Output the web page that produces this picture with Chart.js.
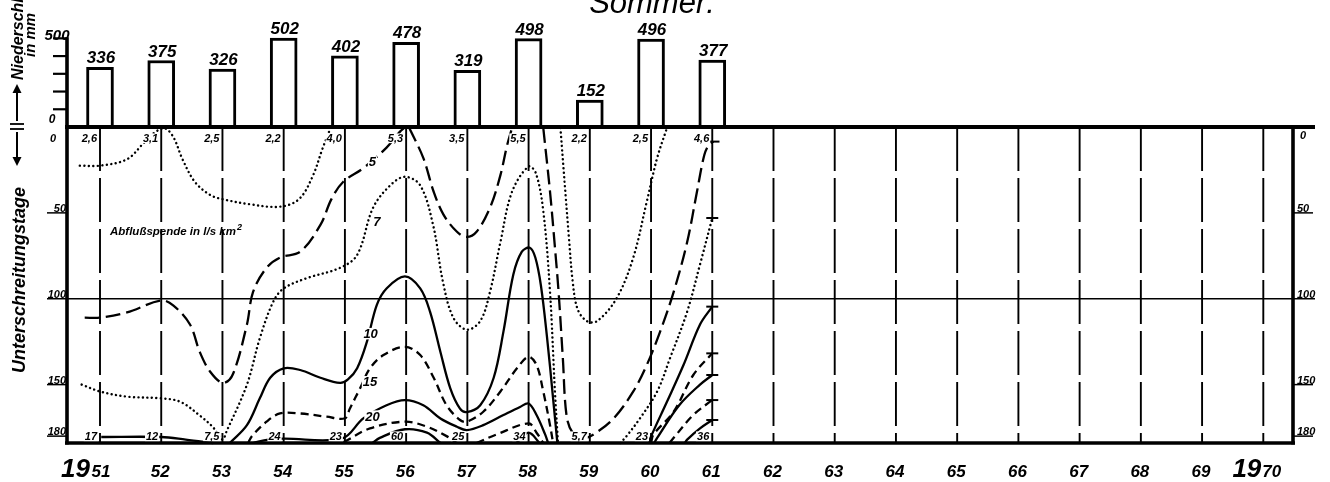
<!DOCTYPE html>
<html><head><meta charset="utf-8">
<script src="https://cdn.jsdelivr.net/npm/chart.js@4.4.1/dist/chart.umd.min.js"></script>
<style>html,body{margin:0;padding:0;background:#fff}canvas{display:block}</style>
</head><body>
<canvas id="c" width="1330" height="482"></canvas>
<script>
// ---------- data ----------
const years = [1951,1952,1953,1954,1955,1956,1957,1958,1959,1960,1961];
const precipitation = [336,375,326,502,402,478,319,498,152,496,377];
const minDischargeLabels = ['2,6','3,1','2,5','2,2','4,0','5,3','3,5','5,5','2,2','2,5','4,6'];
const maxDischargeLabels = ['17','12','7,5','24','23','60','25','34','5,7','23','36'];
const yearTicks = [1951,1952,1953,1954,1955,1956,1957,1958,1959,1960,1961,1962,1963,1964,1965,1966,1967,1968,1969,1970];
const yearTickLabels = ['51','52','53','54','55','56','57','58','59','60','61','62','63','64','65','66','67','68','69','70'];
const dayTicks = [0,50,100,150,180];
const dayTickLabels = ['0','50','100','150','180'];
const precipTicks = [100,200,300,400,500];

// isolines of discharge (l/s km2): [year, days]
const contour3a = [[1950.67,22.5],[1951,22.5],[1951.44,18.8],[1951.71,9.5],[1951.9,3],[1952.06,0.8],[1952.2,6],[1952.35,19],[1952.55,32],[1952.8,39.6],[1953,42],[1953.45,45],[1953.94,46.4],[1954.25,42],[1954.47,29],[1954.63,13],[1954.76,1]];
const contour3b = [[1958.52,0.5],[1958.6,37.7],[1958.66,65],[1958.72,90],[1958.8,106],[1958.95,113],[1959.12,113],[1959.44,99.6],[1959.71,76],[1959.93,43.5],[1960.1,18],[1960.26,0.5]];
const contour5a = [[1950.75,111],[1951,111],[1951.44,108],[1952,101],[1952.2,104],[1952.47,115],[1952.63,131],[1952.8,142.5],[1953.01,149],[1953.17,144],[1953.4,115],[1953.5,96],[1953.72,82],[1953.94,76],[1954.27,72.6],[1954.6,57],[1954.78,42],[1954.97,32],[1955.3,24],[1955.68,12],[1955.9,2.7],[1955.97,0.5]];
const contour5b = [[1956.05,0.5],[1956.28,18],[1956.45,37.7],[1956.61,51],[1956.83,61],[1956.99,64],[1957.15,61],[1957.37,47],[1957.54,28],[1957.65,10.5],[1957.73,0.5]];
const contour5c = [[1958.24,0.5],[1958.35,37.7],[1958.43,70],[1958.49,96],[1958.56,135],[1958.62,168],[1958.72,178],[1958.9,181],[1959.06,179],[1959.39,169.6],[1959.71,154],[1959.93,138.6],[1960.15,119],[1960.37,96],[1960.59,67],[1960.75,37.7],[1960.87,16.3],[1960.95,10],[1961.02,8.5]];
const contour7a = [[1950.7,150],[1951,154],[1951.44,157],[1952,158],[1952.31,160],[1952.63,168],[1952.85,175],[1953.0,182],[1953.07,177],[1953.4,150],[1953.61,123],[1953.83,101.7],[1954,94],[1954.38,88],[1954.92,82],[1955.2,74.5],[1955.46,47],[1955.74,34],[1955.98,29],[1956.23,34],[1956.44,57],[1956.6,90],[1956.77,111],[1956.99,118],[1957.21,113],[1957.37,96],[1957.54,67],[1957.73,37.7],[1958,23],[1958.12,27],[1958.24,49],[1958.35,96],[1958.43,154],[1958.48,184]];
const contour7b = [[1959.5,184],[1959.6,180],[1959.82,169.6],[1960.1,154],[1960.31,134.6],[1960.59,107.5],[1960.8,80],[1961.0,53]];
const contour10a = [[1951.02,180.5],[1952,180.5],[1952.4,182],[1952.85,184]];
const contour10b = [[1953.12,184],[1953.4,173.6],[1953.61,158],[1953.78,146],[1954,140.5],[1954.27,141.5],[1954.6,146],[1954.92,149],[1955.05,147],[1955.2,140.5],[1955.36,125],[1955.52,103.7],[1955.68,94],[1955.98,87],[1956.23,94],[1956.39,107.5],[1956.56,131],[1956.72,152],[1956.88,164],[1956.99,166],[1957.21,162],[1957.43,146],[1957.59,119],[1957.75,86],[1957.89,72.6],[1958.02,70.3],[1958.11,76],[1958.2,92],[1958.3,122],[1958.4,158],[1958.47,184]];
const contour10c = [[1959.97,184],[1959.99,181],[1960.26,160],[1960.53,138.6],[1960.8,115],[1961.0,104.6]];
const contour15a = [[1953.42,184],[1953.48,180],[1953.72,171.6],[1953.94,166.8],[1954.27,166.8],[1954.7,168.7],[1955.0,169.6],[1955.08,164],[1955.25,152],[1955.41,140.5],[1955.63,132.8],[1955.98,128],[1956.23,132.8],[1956.45,146],[1956.66,162],[1956.88,170.6],[1956.99,171.6],[1957.26,165.8],[1957.54,154],[1957.81,140.5],[1958,133.8],[1958.13,138.6],[1958.24,154],[1958.35,173.6],[1958.4,184]];
const contour15b = [[1960.0,184],[1960.04,179],[1960.37,165.8],[1960.69,144.4],[1961.0,131.8]];
const contour20a = [[1953.5,184],[1953.75,182],[1954,181.5],[1954.95,181.5],[1955.3,169.7],[1955.68,162],[1955.98,159],[1956.28,162],[1956.56,169.7],[1956.83,174.5],[1956.99,176.5],[1957.26,173.6],[1957.59,167.7],[1957.86,163],[1958,161],[1958.13,167.7],[1958.27,179],[1958.32,184]];
const contour20b = [[1960.05,184],[1960.1,181],[1960.46,162],[1960.8,150],[1961.0,144.4]];
const contour25a = [[1954.98,183.5],[1955.41,175.5],[1955.98,171.6],[1956.34,174.5],[1956.66,180],[1956.83,184]];
const contour25b = [[1957.15,184],[1957.48,179],[1958,172.6],[1958.13,178],[1958.24,184]];
const contour25c = [[1960.3,184],[1960.37,181],[1960.69,167.7],[1961.0,159]];
const contour30a = [[1955.45,184],[1955.57,181],[1955.98,176],[1956.34,178],[1956.56,184]];
const contour30b = [[1957.8,184],[1958,178],[1958.18,184]];
const contour30c = [[1960.55,184],[1960.59,182],[1960.8,175.5],[1961.0,170.6]];
const contourLabels = ['5','7','10','15','20'];
const contourLabelYears = [1955.45,1955.52,1955.42,1955.41,1955.45];
const contourLabelDays = [20,55,120,148,168];

// ---------- styling helpers ----------
const F = '"Liberation Sans","DejaVu Sans",sans-serif';
const DASH = {dotted:[0.1,4.4], long:[15,6], short:[8,5], solid:[]};
function contour(points, style, endTick){
  const n = points.length;
  return {
    type:'line', xAxisID:'x', yAxisID:'yDays',
    data: points.map(p=>({x:p[0], y:p[1]})),
    borderColor:'#000', borderWidth: style==='dotted'?2.4:2.3,
    borderDash: DASH[style], borderCapStyle: style==='dotted'?'round':'butt',
    tension:0.35, fill:false, clip:false,
    pointStyle:'line', pointBorderColor:'#000', pointBorderWidth:2,
    pointRadius: ctx => (endTick && ctx.dataIndex===n-1) ? 6 : 0,
    pointHoverRadius:0
  };
}

const XMIN = 1950.461, XMAX = 1970.485;
const TOP = 10, ZERO = 127, BOT = 443;
const DAYPX = (BOT-ZERO)/184, MMPX = 0.1773;

function txt(ctx, s, x, y, font, align, bg){
  ctx.font = font; ctx.textAlign = align || 'left'; ctx.textBaseline='alphabetic';
  if(bg){
    const w = ctx.measureText(s).width, h = parseFloat(font.match(/(\d+(\.\d+)?)px/)[1]);
    let lx = align==='right'? x-w : align==='center'? x-w/2 : x;
    ctx.fillStyle='#fff'; ctx.fillRect(lx-1, y-h*0.78, w+2, h*0.88);
  }
  ctx.fillStyle='#000'; ctx.fillText(s, x, y);
}
function line(ctx, x1,y1,x2,y2, w){ctx.lineWidth=w; ctx.beginPath(); ctx.moveTo(x1,y1); ctx.lineTo(x2,y2); ctx.stroke();}

const decor = {
  id:'decor',
  beforeDatasetsDraw(chart){
    const {ctx, chartArea:a, scales} = chart;
    const x = scales.x, yd = scales.yDays, yb = scales.yBar;
    const top = yd.getPixelForValue(0), bot = yd.getPixelForValue(184);
    ctx.save(); ctx.strokeStyle='#000'; ctx.lineCap='butt';
    ctx.setLineDash([44,7]);
    yearTicks.forEach(yr=>{ const px = x.getPixelForValue(yr); line(ctx, px, top, px, bot, 1.9); });
    ctx.setLineDash([]);
    dayTicks.forEach(d=>{
      if(d===0) return;
      const py = yd.getPixelForValue(d);
      if(d===100){ line(ctx, a.left-20, py, a.right+22, py, 1.6); }
      else { line(ctx, a.left-20, py, a.left, py, 1.5); line(ctx, a.right, py, a.right+20, py, 1.5); }
    });
    precipTicks.forEach(v=>{ const py = yb.getPixelForValue(v); line(ctx, a.left-14, py, a.left, py, 2.2); });
    line(ctx, a.left, yb.getPixelForValue(500)-1, a.left, bot+1.5, 3.6);
    line(ctx, a.right, top, a.right, bot+1.5, 3.6);
    ctx.restore();
  },
  afterDatasetsDraw(chart){
    const {ctx, chartArea:a, scales} = chart;
    const x = scales.x, yd = scales.yDays, yb = scales.yBar;
    const top = yd.getPixelForValue(0), bot = yd.getPixelForValue(184);
    ctx.save(); ctx.strokeStyle='#000';
    line(ctx, a.left-2, top, a.right+22, top, 4);
    line(ctx, a.left-2, bot, a.right+2, bot, 3.6);
    years.forEach((yr,i)=>{
      txt(ctx, String(precipitation[i]), x.getPixelForValue(yr)+1, yb.getPixelForValue(precipitation[i])-4, 'italic bold 17px '+F, 'center');
    });
    years.forEach((yr,i)=>{
      const px = x.getPixelForValue(yr);
      txt(ctx, minDischargeLabels[i], px-3, top+15, 'italic bold 11px '+F, 'right', true);
      txt(ctx, maxDischargeLabels[i], px-3, bot-3, 'italic bold 11px '+F, 'right', true);
    });
    contourLabels.forEach((s,i)=>{
      txt(ctx, s, x.getPixelForValue(contourLabelYears[i]), yd.getPixelForValue(contourLabelDays[i])+5, 'italic bold 13px '+F, 'center', true);
    });
    txt(ctx, 'Abflußspende in l/s km', 110, yd.getPixelForValue(63), 'italic bold 11.5px '+F, 'left');
    ctx.font='italic bold 11.5px '+F;
    const w = ctx.measureText('Abflußspende in l/s km').width;
    txt(ctx, '2', 110+w+1, yd.getPixelForValue(63)-5, 'italic bold 9px '+F, 'left');
    dayTicks.forEach((d,i)=>{
      const py = yd.getPixelForValue(d);
      if(d===0){
        txt(ctx, '0', a.left-14, py+15, 'italic bold 11px '+F, 'center');
        txt(ctx, '0', a.right+10, py+12, 'italic bold 11px '+F, 'center');
      } else {
        txt(ctx, dayTickLabels[i], a.left-1, py-1, 'italic bold 11px '+F, 'right');
        txt(ctx, dayTickLabels[i], a.right+4, py-1, 'italic bold 11px '+F, 'left');
      }
    });
    txt(ctx, '0', a.left-15, yb.getPixelForValue(0)-4, 'italic bold 12px '+F, 'center');
    txt(ctx, '500', a.left-10, yb.getPixelForValue(500)+2, 'italic bold 15px '+F, 'center');
    yearTicks.forEach((yr,i)=>{
      const px = x.getPixelForValue(yr);
      if(i===0){
        txt(ctx, yearTickLabels[i], px+1, 477, 'italic bold 17px '+F, 'center');
        txt(ctx, '19', px-10, 477, 'italic bold 26px '+F, 'right');
      } else if(i===yearTicks.length-1){
        txt(ctx, yearTickLabels[i], px-1, 477, 'italic bold 17px '+F, 'left');
        txt(ctx, '19', px-2, 477, 'italic bold 26px '+F, 'right');
      } else {
        txt(ctx, yearTickLabels[i], px-1, 477, 'italic bold 17px '+F, 'center');
      }
    });
    txt(ctx, 'Sommer:', 652, 13, 'italic 31px '+F, 'center');
    line(ctx, 17, 121, 17, 90, 2);
    ctx.beginPath(); ctx.moveTo(17,84); ctx.lineTo(12.5,93); ctx.lineTo(21.5,93); ctx.closePath(); ctx.fillStyle='#000'; ctx.fill();
    line(ctx, 10, 124, 24, 124, 1.8); line(ctx, 10, 129, 24, 129, 1.8);
    line(ctx, 17, 132, 17, 160, 2);
    ctx.beginPath(); ctx.moveTo(17,166); ctx.lineTo(12.5,157); ctx.lineTo(21.5,157); ctx.closePath(); ctx.fill();
    ctx.save(); ctx.translate(23, 80); ctx.rotate(-Math.PI/2);
    txt(ctx, 'Niederschlag', 0, 0, 'italic bold 16px '+F, 'left'); ctx.restore();
    ctx.save(); ctx.translate(35, 57); ctx.rotate(-Math.PI/2);
    txt(ctx, 'in mm', 0, 0, 'italic bold 15px '+F, 'left'); ctx.restore();
    ctx.save(); ctx.translate(25, 280); ctx.rotate(-Math.PI/2);
    txt(ctx, 'Unterschreitungstage', 0, 0, 'italic bold 18px '+F, 'center'); ctx.restore();
    ctx.restore();
  }
};

const datasets = [
  {type:'bar', xAxisID:'x', yAxisID:'yBar',
   data: years.map((yr,i)=>({x:yr, y:precipitation[i]})),
   backgroundColor:'#fff', borderColor:'#000', borderWidth:3, borderSkipped:'bottom',
   barThickness:27},
  contour(contour3a,'dotted',false), contour(contour3b,'dotted',false),
  contour(contour5a,'long',false), contour(contour5b,'long',false), contour(contour5c,'long',true),
  contour(contour7a,'dotted',false), contour(contour7b,'dotted',true),
  contour(contour10a,'solid',false), contour(contour10b,'solid',false), contour(contour10c,'solid',true),
  contour(contour15a,'short',false), contour(contour15b,'short',true),
  contour(contour20a,'solid',false), contour(contour20b,'solid',true),
  contour(contour25a,'short',false), contour(contour25b,'short',false), contour(contour25c,'short',true),
  contour(contour30a,'solid',false), contour(contour30b,'solid',false), contour(contour30c,'solid',true)
];

new Chart(document.getElementById('c'), {
  type:'bar',
  data:{datasets},
  options:{
    responsive:false, animation:false, events:[],
    layout:{padding:{left:67, right:1330-1293, top:TOP, bottom:482-BOT}},
    plugins:{legend:{display:false}, tooltip:{enabled:false}, title:{display:false}},
    scales:{
      x:{type:'linear', min:XMIN, max:XMAX, offset:false, display:false},
      yDays:{type:'linear', reverse:true, min:-(ZERO-TOP)/DAYPX, max:184, display:false},
      yBar:{type:'linear', min:-(BOT-ZERO)/MMPX, max:(ZERO-TOP)/MMPX, display:false}
    }
  },
  plugins:[decor]
});
</script>
</body></html>
